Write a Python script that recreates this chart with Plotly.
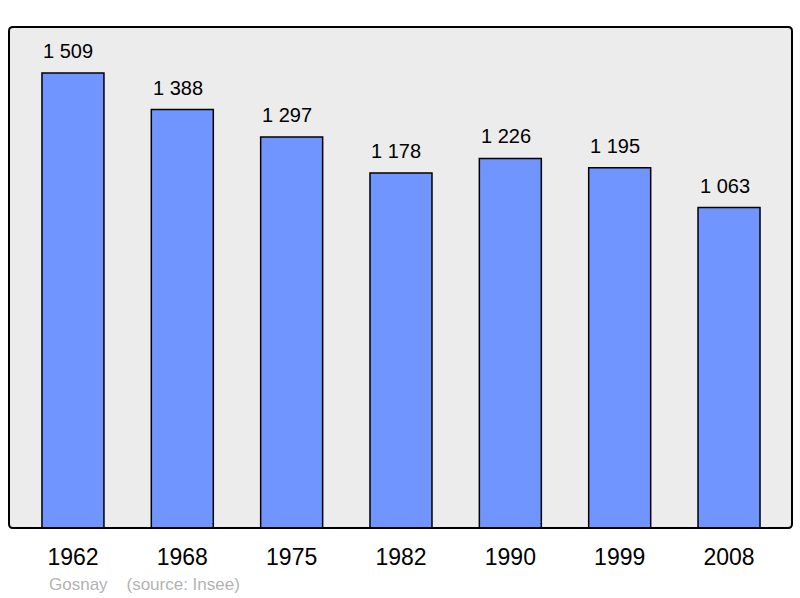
import plotly.graph_objects as go

years = ["1962", "1968", "1975", "1982", "1990", "1999", "2008"]
population = [1509, 1388, 1297, 1178, 1226, 1195, 1063]
value_labels = ["1 509", "1 388", "1 297", "1 178", "1 226", "1 195", "1 063"]
commune = "Gosnay"
source = "(source: Insee)"

idx = list(range(len(years)))
FONT = "Liberation Sans, Arial, sans-serif"

fig = go.Figure()
fig.add_trace(go.Bar(
    x=idx, y=population, width=0.567,
    marker=dict(color="#7095ff", line=dict(color="#000000", width=1.5)),
    hoverinfo="skip",
))

for i, v, t in zip(idx, population, value_labels):
    fig.add_annotation(x=i, y=v, text=t, showarrow=False, yanchor="bottom",
                       yshift=9, xshift=-4.5,
                       font=dict(family=FONT, size=20, color="#000"))

W, H = 800, 598
l, r, t, b = 9, 8, 27, 70
fig.update_layout(
    width=W, height=H,
    margin=dict(l=l, r=r, t=t, b=b),
    paper_bgcolor="#ffffff", plot_bgcolor="#ececec",
    showlegend=False,
    xaxis=dict(range=[-0.585, 6.576], tickvals=idx, ticktext=years,
               showgrid=False, zeroline=False, showline=False, ticks="",
               ticklabelstandoff=13,
               tickfont=dict(family=FONT, size=23, color="#000"), fixedrange=True),
    yaxis=dict(range=[0, 1662], showgrid=False, zeroline=False, showline=False,
               showticklabels=False, ticks="", fixedrange=True),
)

# rounded frame around plot area
pw = (W - l - r)
ph = (H - t - b)
rx = 4 / pw
ry = 4 / ph
path = (f"M {rx},0 L {1-rx},0 Q 1,0 1,{ry} L 1,{1-ry} Q 1,1 {1-rx},1 "
        f"L {rx},1 Q 0,1 0,{1-ry} L 0,{ry} Q 0,0 {rx},0 Z")
fig.add_shape(type="path", xref="paper", yref="paper", path=path,
              line=dict(color="#000000", width=2), layer="above")

fig.add_annotation(xref="paper", yref="paper", x=(47 - l) / pw, y=-(584 - (H - b)) / ph,
                   xanchor="left", yanchor="middle", showarrow=False,
                   text=commune + "\u00a0\u00a0\u00a0\u00a0" + source,
                   font=dict(family=FONT, size=17, color="#b3b3b3"))

fig.write_html("out.html", config={"displayModeBar": False},
               post_script="document.body.style.margin='0';")
